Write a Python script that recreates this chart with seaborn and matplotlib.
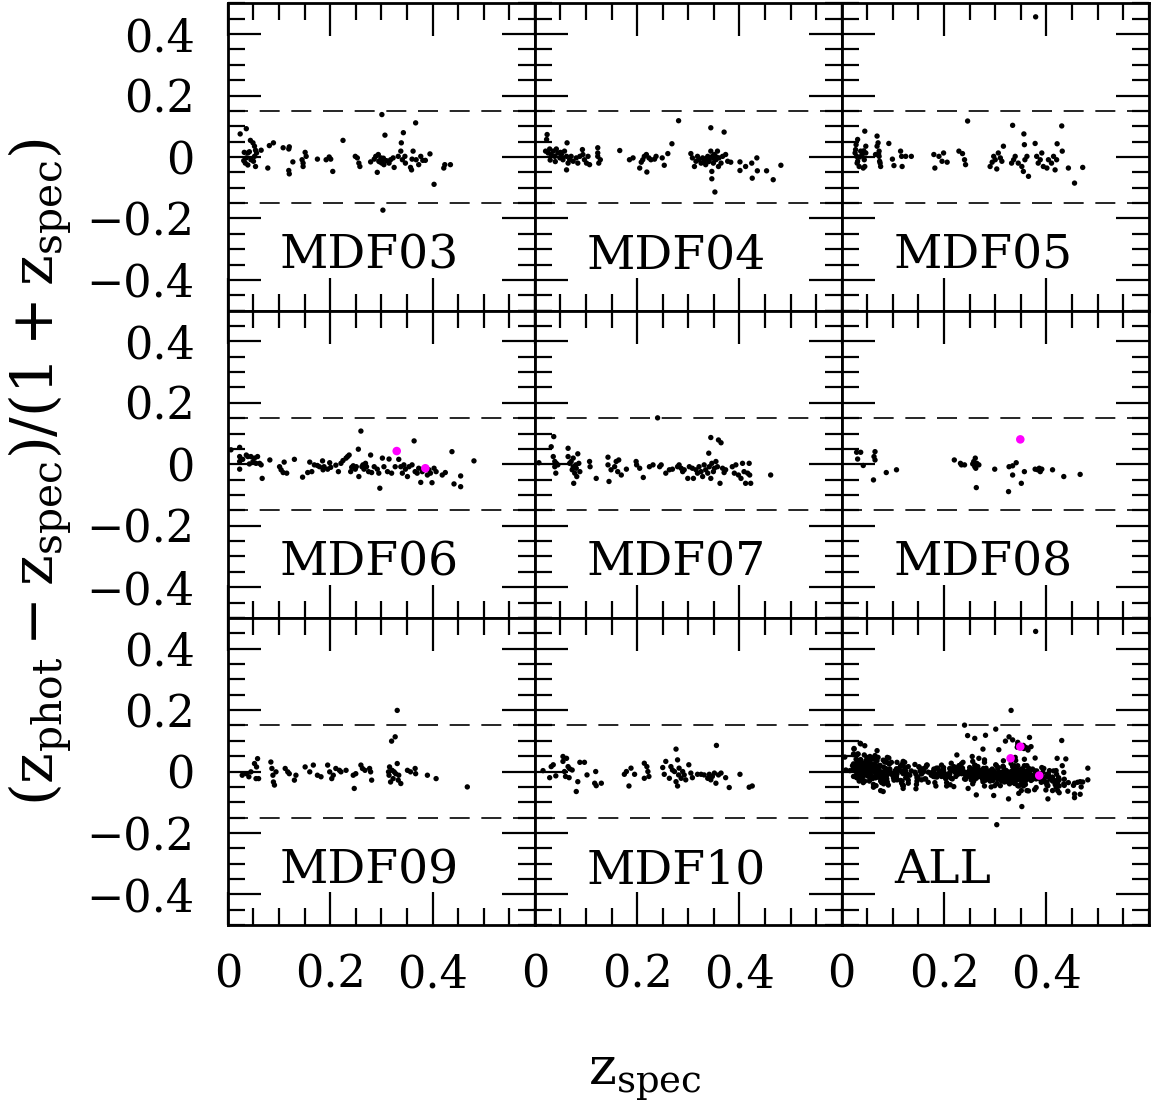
import pandas as pd
import matplotlib.pyplot as plt
import seaborn as sns
from matplotlib.ticker import MultipleLocator, FixedLocator, FuncFormatter

# (z_spec, (z_phot - z_spec)/(1 + z_spec))
mdf03 = [(0.024, 0.075), (0.036, 0.092), (0.044, 0.054), (0.049, 0.046), (0.032, 0.015), (0.039, 0.013),
         (0.042, 0.017), (0.052, 0.035), (0.054, 0.022), (0.056, 0.013), (0.065, 0.022), (0.052, 0.002),
         (0.036, -0.003), (0.031, -0.012), (0.034, -0.020), (0.039, -0.026), (0.045, -0.009), (0.054, -0.031),
         (0.050, -0.014), (0.078, -0.036), (0.081, 0.037), (0.089, 0.046), (0.108, 0.030), (0.119, 0.026),
         (0.120, 0.033), (0.119, -0.044), (0.120, -0.055), (0.127, -0.016), (0.145, -0.009), (0.147, -0.020),
         (0.147, -0.031), (0.151, 0.015), (0.153, 0.002), (0.175, -0.007), (0.192, -0.009), (0.198, 0.000),
         (0.201, -0.007), (0.205, -0.047), (0.225, 0.054), (0.249, 0.002), (0.253, -0.003), (0.256, -0.020),
         (0.258, -0.031), (0.279, -0.016), (0.286, -0.007), (0.289, 0.002), (0.294, 0.008), (0.295, -0.014),
         (0.299, -0.003), (0.301, -0.020), (0.302, -0.009), (0.305, -0.025), (0.292, -0.050), (0.301, 0.138),
         (0.307, 0.071), (0.315, -0.020), (0.318, -0.009), (0.323, -0.003), (0.325, -0.034), (0.333, 0.002),
         (0.338, 0.019), (0.339, 0.046), (0.343, 0.079), (0.341, -0.009), (0.346, 0.002), (0.347, -0.020),
         (0.357, -0.034), (0.359, -0.042), (0.360, -0.007), (0.362, 0.019), (0.367, 0.111), (0.368, -0.009),
         (0.373, -0.025), (0.377, 0.002), (0.381, -0.011), (0.386, -0.011), (0.395, 0.010), (0.403, -0.089),
         (0.422, -0.036), (0.424, -0.025), (0.435, -0.025), (0.303, -0.173), (0.300, -0.010), (0.304, -0.004),
         (0.297, -0.016), (0.310, -0.012)]

mdf04 = [(0.024, 0.073), (0.023, 0.057), (0.021, 0.019), (0.026, 0.013), (0.029, 0.026), (0.032, 0.008),
         (0.036, 0.019), (0.039, 0.002), (0.042, 0.026), (0.045, 0.013), (0.049, -0.003), (0.052, 0.008),
         (0.055, -0.009), (0.058, 0.019), (0.063, 0.046), (0.062, 0.002), (0.062, -0.042), (0.065, -0.020),
         (0.068, -0.009), (0.071, 0.002), (0.075, -0.014), (0.081, -0.003), (0.084, -0.020), (0.088, 0.002),
         (0.093, 0.024), (0.094, 0.008), (0.097, -0.009), (0.101, -0.020), (0.104, 0.002), (0.107, -0.025),
         (0.123, 0.030), (0.123, 0.002), (0.125, -0.020), (0.128, -0.009), (0.123, 0.013), (0.166, 0.021),
         (0.185, -0.009), (0.192, -0.003), (0.205, -0.036), (0.208, -0.017), (0.211, -0.009), (0.214, 0.002),
         (0.218, 0.008), (0.219, -0.049), (0.223, -0.003), (0.227, -0.009), (0.234, -0.007), (0.237, 0.002),
         (0.249, -0.003), (0.253, -0.027), (0.260, 0.011), (0.268, 0.043), (0.281, 0.118), (0.305, 0.011),
         (0.308, -0.003), (0.312, -0.031), (0.315, -0.014), (0.318, 0.002), (0.321, -0.009), (0.325, -0.020),
         (0.328, -0.003), (0.331, -0.014), (0.334, -0.025), (0.338, 0.002), (0.341, -0.009), (0.344, 0.095),
         (0.344, 0.019), (0.346, -0.047), (0.346, -0.071), (0.347, 0.002), (0.349, -0.020), (0.351, 0.008),
         (0.352, -0.114), (0.354, -0.009), (0.357, 0.019), (0.359, -0.031), (0.360, -0.003), (0.364, -0.020),
         (0.367, 0.002), (0.370, 0.081), (0.373, 0.008), (0.377, -0.014), (0.383, -0.017), (0.401, -0.016),
         (0.401, -0.044), (0.412, -0.031), (0.424, -0.020), (0.425, -0.069), (0.434, -0.003), (0.435, -0.045),
         (0.453, -0.045), (0.466, -0.074), (0.481, -0.027), (0.030, -0.010), (0.040, -0.015), (0.050, 0.015),
         (0.335, -0.005), (0.340, -0.015), (0.350, -0.005), (0.355, 0.000)]

mdf05 = [(0.031, 0.057), (0.027, 0.024), (0.026, 0.013), (0.029, 0.002), (0.031, -0.014), (0.034, -0.031),
         (0.037, 0.019), (0.040, 0.008), (0.044, -0.009), (0.045, 0.084), (0.047, 0.035), (0.047, 0.013),
         (0.045, -0.031), (0.042, -0.036), (0.069, 0.068), (0.071, 0.046), (0.073, 0.019), (0.073, 0.002),
         (0.074, -0.014), (0.076, -0.031), (0.069, 0.035), (0.066, 0.008), (0.092, 0.044), (0.099, -0.007),
         (0.102, -0.028), (0.115, 0.019), (0.117, 0.002), (0.118, -0.031), (0.125, 0.002), (0.136, 0.002),
         (0.180, 0.008), (0.182, -0.036), (0.190, 0.002), (0.196, -0.014), (0.199, 0.013), (0.206, -0.017),
         (0.229, 0.019), (0.236, 0.011), (0.240, -0.009), (0.242, -0.025), (0.246, 0.117), (0.290, -0.031),
         (0.294, -0.017), (0.297, 0.002), (0.300, -0.009), (0.303, -0.039), (0.306, 0.013), (0.310, -0.003),
         (0.313, -0.014), (0.316, 0.035), (0.332, -0.020), (0.334, 0.103), (0.336, -0.009), (0.339, 0.002),
         (0.345, -0.020), (0.352, -0.031), (0.355, -0.047), (0.356, 0.075), (0.357, 0.040), (0.358, -0.009),
         (0.362, 0.002), (0.365, -0.063), (0.378, 0.044), (0.381, 0.002), (0.384, -0.020), (0.388, -0.009),
         (0.391, 0.013), (0.394, -0.031), (0.401, -0.036), (0.404, -0.009), (0.410, -0.020), (0.414, 0.002),
         (0.417, -0.042), (0.420, -0.009), (0.421, 0.043), (0.430, 0.101), (0.431, 0.019), (0.443, -0.036),
         (0.455, -0.085), (0.471, -0.034), (0.379, 0.456), (0.028, 0.040), (0.035, 0.000), (0.043, 0.020),
         (0.072, 0.010), (0.075, -0.020), (0.030, -0.020)]

mdf06 = [(0.006, 0.047), (0.023, 0.055), (0.023, 0.025), (0.023, 0.009), (0.023, -0.016), (0.029, 0.016),
         (0.036, 0.030), (0.039, 0.025), (0.042, 0.001), (0.045, 0.025), (0.049, 0.009), (0.052, 0.020),
         (0.055, 0.003), (0.058, 0.025), (0.062, 0.003), (0.065, -0.002), (0.067, -0.046), (0.082, 0.014),
         (0.101, -0.008), (0.104, -0.018), (0.108, -0.027), (0.110, 0.007), (0.115, -0.029), (0.130, 0.016),
         (0.146, -0.042), (0.156, -0.027), (0.160, 0.007), (0.164, -0.024), (0.169, -0.002), (0.175, -0.004),
         (0.179, -0.008), (0.185, 0.011), (0.186, -0.018), (0.188, -0.008), (0.195, -0.016), (0.199, 0.005),
         (0.201, -0.010), (0.211, -0.003), (0.216, -0.024), (0.221, 0.003), (0.225, 0.012), (0.231, 0.020),
         (0.234, 0.025), (0.237, 0.030), (0.240, -0.024), (0.242, -0.010), (0.245, -0.005), (0.249, -0.016),
         (0.251, -0.008), (0.255, 0.049), (0.256, -0.040), (0.260, 0.108), (0.262, -0.008), (0.264, -0.002),
         (0.266, -0.016), (0.269, 0.003), (0.271, -0.008), (0.275, -0.024), (0.279, 0.030), (0.281, -0.027),
         (0.286, -0.008), (0.292, -0.016), (0.295, -0.029), (0.297, -0.078), (0.302, 0.020), (0.305, -0.008),
         (0.312, -0.024), (0.315, 0.017), (0.320, -0.029), (0.327, -0.008), (0.334, 0.016), (0.338, -0.008),
         (0.341, -0.029), (0.344, -0.002), (0.347, -0.016), (0.351, -0.040), (0.354, -0.008), (0.360, -0.002),
         (0.364, 0.076), (0.366, -0.024), (0.370, -0.029), (0.373, -0.013), (0.377, -0.059), (0.380, -0.024),
         (0.383, -0.013), (0.390, -0.035), (0.393, -0.018), (0.396, -0.029), (0.399, -0.060), (0.403, -0.013),
         (0.407, -0.024), (0.419, -0.035), (0.425, -0.027), (0.438, 0.041), (0.442, -0.064), (0.455, -0.038),
         (0.455, -0.073), (0.481, 0.011)]

mdf07 = [(0.008, 0.005), (0.032, 0.057), (0.036, 0.025), (0.037, 0.090), (0.039, 0.009), (0.039, -0.008),
         (0.041, -0.029), (0.042, 0.003), (0.045, -0.002), (0.065, 0.052), (0.065, 0.025), (0.068, 0.003),
         (0.071, 0.009), (0.073, -0.018), (0.075, 0.020), (0.075, -0.008), (0.076, -0.062), (0.078, -0.029),
         (0.080, -0.002), (0.081, -0.013), (0.082, -0.040), (0.084, 0.034), (0.086, 0.003), (0.088, -0.024),
         (0.107, 0.009), (0.108, -0.008), (0.120, -0.046), (0.143, 0.023), (0.143, -0.002), (0.145, -0.056),
         (0.149, -0.018), (0.156, -0.008), (0.159, 0.009), (0.162, -0.024), (0.164, 0.014), (0.169, -0.035),
         (0.179, -0.016), (0.198, 0.009), (0.199, -0.002), (0.205, -0.013), (0.212, -0.043), (0.224, -0.008),
         (0.231, -0.002), (0.240, 0.151), (0.244, -0.008), (0.247, -0.002), (0.256, -0.029), (0.263, -0.018),
         (0.269, -0.016), (0.279, -0.008), (0.282, -0.002), (0.286, -0.013), (0.289, -0.024), (0.292, -0.018),
         (0.299, -0.046), (0.302, -0.008), (0.308, -0.013), (0.310, -0.046), (0.315, -0.018), (0.318, -0.029),
         (0.321, -0.008), (0.325, -0.024), (0.328, -0.040), (0.331, -0.002), (0.334, -0.018), (0.338, -0.029),
         (0.340, 0.036), (0.341, -0.008), (0.344, 0.087), (0.344, -0.046), (0.346, 0.003), (0.349, -0.024),
         (0.351, -0.013), (0.354, 0.009), (0.357, -0.008), (0.359, 0.079), (0.362, -0.062), (0.364, 0.070),
         (0.367, -0.013), (0.370, -0.027), (0.373, -0.018), (0.386, -0.008), (0.390, -0.029), (0.393, -0.002),
         (0.398, -0.035), (0.403, -0.046), (0.406, 0.003), (0.409, -0.024), (0.412, -0.062), (0.416, -0.029),
         (0.419, 0.003), (0.420, -0.035), (0.422, -0.062), (0.461, -0.035)]

mdf08 = [(0.029, 0.039), (0.037, 0.039), (0.031, 0.017), (0.042, -0.004), (0.062, -0.051), (0.063, 0.025),
         (0.065, 0.041), (0.065, 0.014), (0.087, -0.027), (0.107, -0.018), (0.220, 0.014), (0.232, 0.003),
         (0.234, -0.002), (0.240, -0.002), (0.256, 0.001), (0.258, 0.009), (0.260, -0.008), (0.261, 0.020),
         (0.262, -0.013), (0.264, 0.003), (0.268, -0.002), (0.263, -0.076), (0.299, -0.016), (0.326, -0.089),
         (0.327, -0.008), (0.334, -0.005), (0.334, -0.035), (0.341, 0.005), (0.351, -0.062), (0.357, -0.024),
         (0.378, -0.016), (0.383, -0.018), (0.386, -0.013), (0.388, -0.024), (0.391, -0.016), (0.412, -0.018),
         (0.434, -0.040), (0.466, -0.033)]

mdf09 = [(0.028, -0.012), (0.036, -0.007), (0.041, -0.017), (0.045, -0.001), (0.052, 0.026), (0.055, -0.023),
         (0.058, 0.042), (0.056, 0.015), (0.060, -0.023), (0.084, 0.031), (0.086, 0.010), (0.088, -0.012),
         (0.089, -0.034), (0.091, -0.044), (0.094, -0.001), (0.112, 0.010), (0.117, -0.001), (0.120, -0.007),
         (0.130, -0.028), (0.133, -0.012), (0.151, 0.015), (0.160, -0.001), (0.167, 0.021), (0.175, -0.012),
         (0.182, -0.017), (0.195, 0.021), (0.199, -0.001), (0.203, -0.023), (0.206, -0.012), (0.211, 0.010),
         (0.218, 0.004), (0.221, -0.001), (0.231, 0.004), (0.245, -0.012), (0.247, -0.055), (0.250, -0.007),
         (0.260, 0.021), (0.263, 0.010), (0.268, 0.004), (0.277, 0.010), (0.279, -0.001), (0.281, -0.028),
         (0.314, -0.001), (0.315, -0.012), (0.316, 0.015), (0.318, -0.034), (0.320, 0.099), (0.321, 0.004),
         (0.323, -0.023), (0.325, -0.001), (0.327, 0.113), (0.328, -0.007), (0.331, 0.199), (0.331, 0.026),
         (0.333, -0.028), (0.334, -0.012), (0.338, -0.039), (0.351, 0.004), (0.357, -0.001), (0.366, 0.010),
         (0.367, -0.007), (0.390, -0.012), (0.407, -0.023), (0.468, -0.050)]

mdf10 = [(0.016, 0.003), (0.029, -0.020), (0.032, 0.016), (0.036, 0.022), (0.041, -0.014), (0.055, 0.049),
         (0.055, 0.033), (0.058, 0.000), (0.060, -0.016), (0.062, 0.043), (0.065, 0.016), (0.067, -0.020),
         (0.068, 0.009), (0.073, 0.005), (0.084, -0.033), (0.081, -0.065), (0.088, 0.030), (0.097, 0.030),
         (0.102, -0.011), (0.117, -0.038), (0.119, 0.000), (0.120, -0.046), (0.130, -0.038), (0.175, -0.009),
         (0.179, 0.000), (0.184, -0.047), (0.188, 0.011), (0.195, -0.009), (0.214, 0.027), (0.214, -0.022),
         (0.219, 0.016), (0.221, 0.000), (0.223, -0.016), (0.250, 0.013), (0.253, -0.009), (0.256, 0.033),
         (0.263, -0.022), (0.266, 0.016), (0.269, 0.005), (0.273, 0.000), (0.276, 0.073), (0.276, -0.033),
         (0.279, 0.038), (0.279, -0.047), (0.281, -0.011), (0.282, 0.011), (0.286, -0.022), (0.289, 0.000),
         (0.292, -0.011), (0.295, -0.027), (0.301, 0.022), (0.305, -0.005), (0.308, -0.020), (0.318, -0.009),
         (0.325, -0.009), (0.331, -0.011), (0.338, -0.022), (0.341, -0.009), (0.344, -0.027), (0.347, -0.016),
         (0.351, -0.005), (0.354, -0.038), (0.355, 0.085), (0.359, -0.011), (0.364, -0.005), (0.373, -0.020),
         (0.380, -0.052), (0.401, -0.009), (0.419, -0.051), (0.425, -0.047)]

# highlighted objects (magenta)
mdf06_special = [(0.330, 0.043), (0.386, -0.013)]
mdf08_special = [(0.349, 0.081)]

fields = ["MDF03", "MDF04", "MDF05", "MDF06", "MDF07", "MDF08", "MDF09", "MDF10"]
field_data = [mdf03, mdf04, mdf05, mdf06, mdf07, mdf08, mdf09, mdf10]
field_special = [[], [], [], mdf06_special, [], mdf08_special, [], []]


def to_frame(points, name, special):
    df = pd.DataFrame(points, columns=["zspec", "dz"])
    df["field"] = name
    df["special"] = special
    return df


frames = []
for name, pts, sp in zip(fields, field_data, field_special):
    frames.append(to_frame(pts, name, False))
    if sp:
        frames.append(to_frame(sp, name, True))
df = pd.concat(frames, ignore_index=True)

sns.set_style("ticks")
plt.rcParams["font.family"] = ["DejaVu Serif"]
plt.rcParams["mathtext.fontset"] = "dejavuserif"
for key in ("text.color", "axes.labelcolor", "xtick.color", "ytick.color", "axes.edgecolor"):
    plt.rcParams[key] = "black"

fig, axes = plt.subplots(3, 3, sharex=True, sharey=True, figsize=(11.51, 11.12), dpi=100)
fig.subplots_adjust(left=0.198, right=0.998, top=0.997, bottom=0.168, wspace=0, hspace=0)


def fmt(v, pos):
    if abs(v) < 1e-9:
        return "0"
    return f"{v:.1f}".replace("-", "\u2212")


panels = fields + ["ALL"]
for ax, name in zip(axes.flat, panels):
    sub = df if name == "ALL" else df[df["field"] == name]
    sns.scatterplot(data=sub[~sub["special"]], x="zspec", y="dz", color="black", s=15,
                    edgecolor="none", linewidth=0, ax=ax, legend=False)
    sns.scatterplot(data=sub[sub["special"]], x="zspec", y="dz", color="#ff00ff", s=38,
                    edgecolor="none", linewidth=0, ax=ax, legend=False, zorder=3)
    for yy in (0.15, -0.15):
        ax.axhline(yy, color="black", lw=1.2, dashes=(12, 7))
    ax.text(0.17, 0.137, name, transform=ax.transAxes, fontsize=34, va="baseline", ha="left")
    ax.set_xlim(0, 0.6)
    ax.set_ylim(-0.5, 0.5)
    ax.xaxis.set_major_locator(FixedLocator([0, 0.2, 0.4]))
    ax.yaxis.set_major_locator(FixedLocator([-0.4, -0.2, 0, 0.2, 0.4]))
    ax.xaxis.set_minor_locator(MultipleLocator(0.05))
    ax.yaxis.set_minor_locator(MultipleLocator(0.05))
    ax.xaxis.set_major_formatter(FuncFormatter(fmt))
    ax.yaxis.set_major_formatter(FuncFormatter(fmt))
    ax.tick_params(which="both", direction="in", top=True, right=True, width=1.6, labelsize=32)
    ax.tick_params(which="major", length=24)
    ax.tick_params(which="minor", length=12)
    ax.tick_params(axis="x", pad=20)
    ax.tick_params(axis="y", pad=24)
    ax.set_xlabel(None)
    ax.set_ylabel(None)
    for sp in ax.spines.values():
        sp.set_linewidth(2.0)
        sp.set_color("black")

fig.text(0.56, 0.031, r"$\mathrm{z_{spec}}$", fontsize=38, ha="center", va="center")
fig.text(0.035, 0.575, r"$(\mathrm{z_{phot}} - \mathrm{z_{spec}})/(1+\mathrm{z_{spec}})$",
         fontsize=42, rotation=90, ha="center", va="center")

plt.savefig("out.png", dpi=100)
